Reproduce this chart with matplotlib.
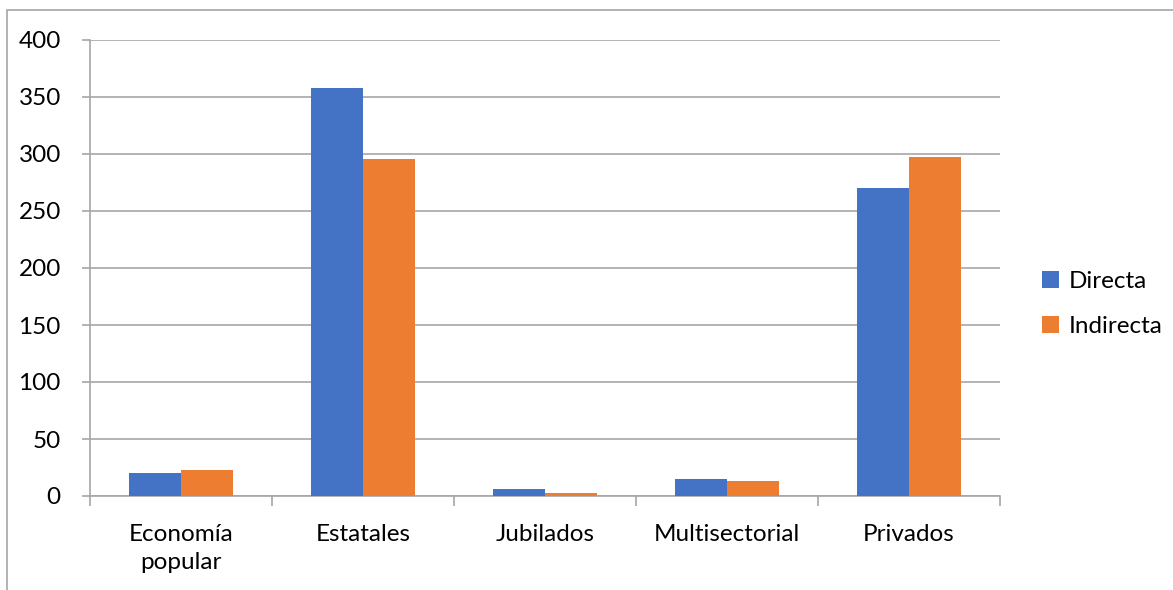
import numpy as np
import matplotlib.pyplot as plt
from matplotlib.patches import Rectangle

plt.rcParams['font.family'] = ['Lato', 'DejaVu Sans']

categorias = ['Economía\npopular', 'Estatales', 'Jubilados', 'Multisectorial', 'Privados']
directa = [20, 358, 6, 15, 270]
indirecta = [23, 296, 3, 13, 297]
yticks = [0, 50, 100, 150, 200, 250, 300, 350, 400]

W, H = 1173, 590
fig = plt.figure(figsize=(W / 100, H / 100), dpi=100)
ax = fig.add_axes([90 / W, 94 / H, 910 / W, 456 / H])

# marco del área del gráfico
fig.patches.append(Rectangle((7 / W, -0.1), 1.2, 1 - 10 / H + 0.1,
                             transform=fig.transFigure, fill=False,
                             edgecolor='#a6a6a6', linewidth=1.2))

x = np.arange(len(categorias))
w = 0.286
ax.bar(x - w / 2, directa, w, color='#4472c4', label='Directa', zorder=3)
ax.bar(x + w / 2, indirecta, w, color='#ed7d31', label='Indirecta', zorder=3)

ax.set_xlim(-0.5, len(categorias) - 0.5)
ax.set_ylim(0, 400)
ax.set_yticks(yticks)
ax.yaxis.grid(True, color='#b3b3b3', linewidth=1.4, zorder=0)
ax.tick_params(axis='y', length=6, width=1.2, color='#a6a6a6',
               labelsize=17.5, pad=15)

ax.set_xticks(x)
ax.set_xticklabels(categorias, fontsize=17.5, linespacing=1.4)
ax.set_xticks(np.arange(len(categorias) + 1) - 0.5, minor=True)
ax.tick_params(axis='x', which='major', length=0, pad=20)
ax.tick_params(axis='x', which='minor', length=7, width=1.2, color='#a6a6a6')

for s in ['top', 'right']:
    ax.spines[s].set_visible(False)
for s in ['left', 'bottom']:
    ax.spines[s].set_color('#a6a6a6')
    ax.spines[s].set_linewidth(1.2)
ax.set_axisbelow(True)

ax.legend(loc='center left', bbox_to_anchor=(1020 / W, 1 - 304 / H),
          bbox_transform=fig.transFigure, frameon=False, fontsize=17.5,
          handlelength=0.7, handleheight=0.7, handletextpad=0.4,
          labelspacing=1.0)

fig.savefig('out.png', dpi=100)
